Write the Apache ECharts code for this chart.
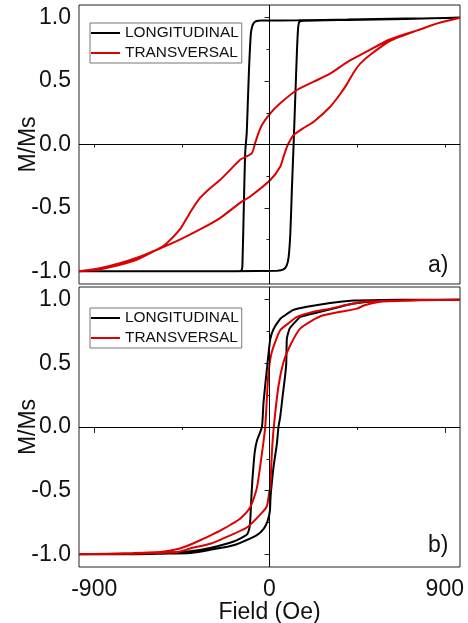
<!DOCTYPE html>
<html>
<head>
<meta charset="utf-8">
<script src="https://cdn.jsdelivr.net/npm/echarts@6/dist/echarts.min.js"></script>
<style>html,body{margin:0;padding:0;background:#fff}#c{width:468px;height:623px}</style>
</head>
<body>
<div id="c"></div>
<script>
// ---- data (Field Oe, M/Ms) ----
const seriesNames = ['LONGITUDINAL', 'TRANSVERSAL'];
const xMajorTicks = [-900, 0, 900];
const xMinorTicks = [-450, 450];
const yMajorTicks = [-1, -0.5, 0, 0.5, 1];
const yMinorTicks = [-0.75, -0.25, 0.25, 0.75];

// panel a) longitudinal
const longA_desc = [[978,1.0],[700,0.993],[400,0.985],[150,0.98],[-40,0.977],[-70,0.972],[-82,0.955],[-90,0.925],[-96,0.87],[-105,0.6],[-112,0.3],[-117,0.09],[-125,-0.07],[-132,-0.5],[-139,-0.95],[-143,-0.99],[-165,-1.0],[-400,-1.0],[-978,-1.0]];
const longA_asc = [[-978,-1.0],[-400,-1.0],[40,-0.995],[72,-0.985],[88,-0.955],[98,-0.89],[107,-0.70],[115,-0.35],[124,0.01],[133,0.4],[141,0.74],[147,0.92],[153,0.965],[175,0.975],[400,0.982],[700,0.99],[978,1.0]];
// panel a) transversal
const transA_desc = [[978,1.0],[862,0.955],[759,0.90],[656,0.85],[605,0.82],[484,0.72],[399,0.65],[313,0.56],[227,0.495],[141,0.43],[55,0.325],[4,0.246],[-39,0.154],[-57,0.088],[-74,0.01],[-91,-0.07],[-151,-0.12],[-202,-0.20],[-254,-0.28],[-305,-0.345],[-362,-0.43],[-409,-0.54],[-460,-0.67],[-529,-0.78],[-580,-0.83],[-701,-0.92],[-872,-0.985],[-978,-1.0]];
const transA_asc = [[-978,-1.0],[-872,-0.976],[-769,-0.937],[-666,-0.885],[-563,-0.82],[-460,-0.75],[-357,-0.67],[-254,-0.58],[-151,-0.46],[-99,-0.41],[4,-0.28],[55,-0.175],[72,-0.096],[90,-0.017],[107,0.035],[124,0.075],[175,0.13],[227,0.18],[313,0.30],[364,0.40],[399,0.48],[433,0.57],[467,0.64],[519,0.71],[622,0.82],[759,0.90],[862,0.955],[978,1.0]];

// panel b) longitudinal
const longB_desc = [[978,1.0],[776,1.0],[569,0.998],[432,0.993],[312,0.975],[192,0.945],[123,0.92],[72,0.87],[55,0.85],[21,0.77],[4,0.69],[-13,0.46],[-31,0.19],[-39,0.0],[-65,-0.11],[-76,-0.2],[-82,-0.3],[-88,-0.42],[-93,-0.55],[-99,-0.74],[-104,-0.8],[-116,-0.845],[-184,-0.90],[-305,-0.95],[-408,-0.976],[-550,-0.99],[-750,-1.0],[-978,-1.0]];
const longB_asc = [[-978,-1.0],[-750,-1.0],[-550,-0.995],[-408,-0.99],[-305,-0.965],[-200,-0.935],[-150,-0.91],[-65,-0.85],[-30,-0.80],[-10,-0.74],[2,-0.66],[5,-0.56],[8,-0.5],[21,-0.31],[38,-0.13],[46,0.0],[55,0.08],[68,0.25],[80,0.40],[86,0.50],[89,0.69],[98,0.75],[106,0.78],[141,0.84],[158,0.865],[261,0.905],[364,0.945],[432,0.97],[569,0.99],[776,1.0],[978,1.0]];
// panel b) transversal
const transB_desc = [[978,1.0],[776,0.997],[569,0.99],[484,0.985],[450,0.975],[398,0.96],[312,0.93],[226,0.905],[141,0.865],[106,0.825],[55,0.76],[12,0.59],[-5,0.43],[-13,0.24],[-22,0.0],[-39,-0.21],[-65,-0.48],[-99,-0.63],[-151,-0.72],[-202,-0.77],[-237,-0.8],[-300,-0.85],[-356,-0.89],[-408,-0.925],[-460,-0.955],[-550,-0.98],[-700,-0.99],[-978,-1.0]];
const transB_asc = [[-978,-1.0],[-700,-0.995],[-480,-0.985],[-440,-0.97],[-408,-0.955],[-300,-0.915],[-237,-0.875],[-116,-0.79],[-31,-0.66],[-13,-0.62],[-2,-0.52],[4,-0.47],[12,-0.21],[22,0.0],[46,0.32],[72,0.51],[106,0.64],[158,0.775],[261,0.87],[364,0.905],[450,0.93],[484,0.955],[569,0.985],[776,0.995],[978,1.0]];

// ---- chart ----
const FONT = 'Liberation Sans, Arial, sans-serif';
const XMIN = -978, XMAX = 978, YMIN = -1.1, YMAX = 1.1;
const chart = echarts.init(document.getElementById('c'), null, {renderer: 'canvas'});

function xAxisPair(grid, showLabels) {
  return [
    {type:'value', gridIndex:grid, min:XMIN, max:XMAX, position:'bottom',
     axisLine:{show:false}, splitLine:{show:false},
     axisTick:{show:true, inside:false, length:showLabels?6:3, customValues:xMajorTicks, lineStyle:{color:'#222', width:1}},
     axisLabel:{show:showLabels, customValues:xMajorTicks, margin:11, color:'#111', fontSize:23, fontFamily:FONT},
     name: showLabels ? 'Field (Oe)' : '', nameLocation:'middle', nameGap:34, nameMoveOverlap:false,
     nameTextStyle:{color:'#111', fontSize:23, fontFamily:FONT}},
    {type:'value', gridIndex:grid, min:XMIN, max:XMAX, position:'bottom',
     axisLine:{show:false}, splitLine:{show:false}, axisLabel:{show:false},
     axisTick:{show:true, inside:false, length:3, customValues:xMinorTicks, lineStyle:{color:'#222', width:1}}}
  ];
}
function yAxisPair(grid) {
  return [
    {type:'value', gridIndex:grid, min:YMIN, max:YMAX, position:'left',
     axisLine:{show:false}, splitLine:{show:false},
     axisTick:{show:true, inside:false, length:5, customValues:yMajorTicks, lineStyle:{color:'#222', width:1}},
     axisLabel:{show:true, customValues:yMajorTicks, margin:8, color:'#111', fontSize:23, fontFamily:FONT,
                formatter:v => v.toFixed(1)},
     name:'M/Ms', nameLocation:'middle', nameGap:39, nameMoveOverlap:false,
     nameTextStyle:{color:'#111', fontSize:23, fontFamily:FONT}},
    {type:'value', gridIndex:grid, min:YMIN, max:YMAX, position:'left',
     axisLine:{show:false}, splitLine:{show:false}, axisLabel:{show:false},
     axisTick:{show:true, inside:false, length:3, customValues:yMinorTicks, lineStyle:{color:'#222', width:1}}}
  ];
}
const zeroLines = {silent:true, symbol:['none','none'], animation:false, label:{show:false},
  lineStyle:{color:'#000', width:1, type:'solid'}, emphasis:{disabled:true},
  data:[{yAxis:0},{xAxis:0}]};

function mkSeries(name, color, data, xi, yi, withZero) {
  const s = {type:'line', name:name, xAxisIndex:xi, yAxisIndex:yi, data:data,
    symbol:'none', smooth:0.2, lineStyle:{color:color, width:2}, itemStyle:{color:color},
    animation:false, z:3};
  if (withZero) s.markLine = zeroLines;
  return s;
}
function legendAt(top) {
  return {show:true, orient:'vertical', left:90, top:top, data:seriesNames,
    icon:'rect', itemWidth:29, itemHeight:2, itemGap:4, padding:[2,3,2,1],
    borderColor:'#777', borderWidth:1, borderRadius:0, selectedMode:false,
    textStyle:{color:'#111', fontSize:15.4, fontFamily:FONT, lineHeight:16}};
}

chart.setOption({
  backgroundColor:'#fff',
  animation:false,
  grid:[
    {left:79, top:5, width:381, height:279, show:true, borderColor:'#222', borderWidth:1, outerBoundsMode:'none', containLabel:false},
    {left:79, top:287, width:381, height:280, show:true, borderColor:'#222', borderWidth:1, outerBoundsMode:'none', containLabel:false}
  ],
  legend:[legendAt(23), legendAt(308)],
  xAxis:[...xAxisPair(0,false), ...xAxisPair(1,true)],
  yAxis:[...yAxisPair(0), ...yAxisPair(1)],
  graphic:[
    {type:'text', left:428, top:254, style:{text:'a)', fontSize:23, fontFamily:FONT, fill:'#111'}},
    {type:'text', left:428, top:534, style:{text:'b)', fontSize:23, fontFamily:FONT, fill:'#111'}}
  ],
  series:[
    mkSeries(seriesNames[0], '#000000', longA_desc.concat(longA_asc), 0, 0, true),
    mkSeries(seriesNames[1], '#dd0000', transA_desc.concat(transA_asc), 0, 0, false),
    mkSeries(seriesNames[0], '#000000', longB_desc.concat(longB_asc), 2, 2, true),
    mkSeries(seriesNames[1], '#dd0000', transB_desc.concat(transB_asc), 2, 2, false)
  ]
});
</script>
</body>
</html>
